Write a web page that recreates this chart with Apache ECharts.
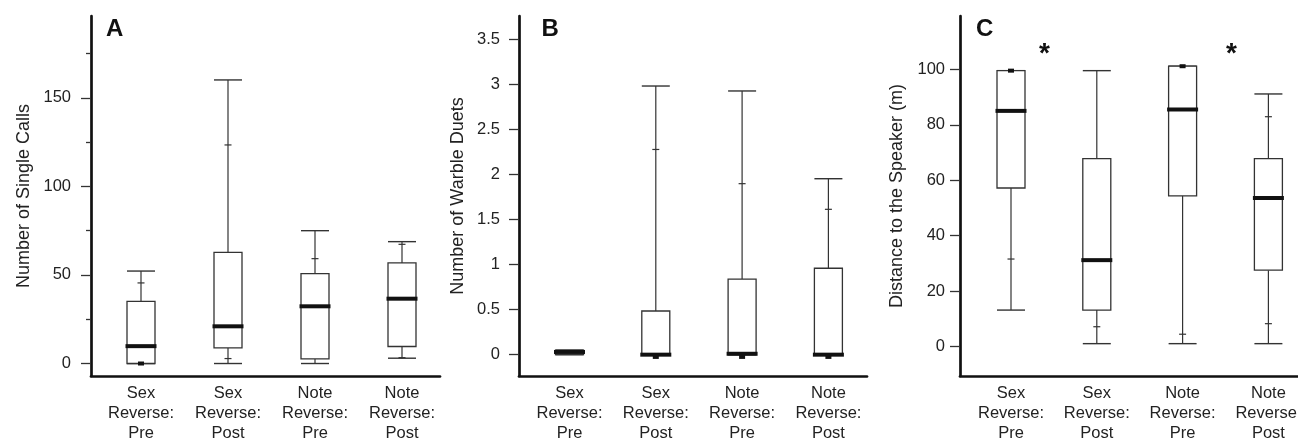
<!DOCTYPE html>
<html>
<head>
    <meta charset="utf-8">
    <script src="https://cdn.jsdelivr.net/npm/echarts@6/dist/echarts.min.js"></script>
</head>
<body style="margin:0">
    <div id="chart" style="width:1298px;height:439px"></div>
<script>
// groups on the x axis (same for the three panels)
const groups = ['Sex\nReverse:\nPre', 'Sex\nReverse:\nPost', 'Note\nReverse:\nPre', 'Note\nReverse:\nPost'];

// each row: [min, p10, q1, median, q3, p90, max]  (null = no mark drawn)
const callsStats = [
    [0, null, 0, 9.8, 35.1, 45.5, 52.2],
    [0, 2.8, 8.8, 21, 62.7, 123.4, 160.1],
    [0, null, 2.6, 32.3, 50.7, 59.2, 75],
    [3.0, 3.3, 9.6, 36.6, 56.8, 67.3, 68.8]
];
const callsDots = [0, null, null, null];

const duetStats = [
    [0, null, 0, 0.03, 0.05, null, 0.05],
    [0, null, 0, 0, 0.485, 2.28, 2.985],
    [0, null, 0, 0.01, 0.84, 1.9, 2.93],
    [0, null, 0, 0, 0.96, 1.615, 1.955]
];
const duetDots = [null, -0.025, -0.025, -0.025];

const distStats = [
    [13.2, 31.6, 57.2, 85.0, 99.5, null, 99.5],
    [1.1, 7.2, 13.2, 31.2, 67.8, null, 99.5],
    [1.1, 4.5, 54.4, 85.5, 101.1, null, 101.1],
    [1.1, 8.3, 27.6, 53.6, 67.8, 82.9, 91.1]
];
const distDots = [99.5, null, 101.1, null];

// significance stars in panel C
const starX = [1.39, 3.57];
const starY = [105.5, 105.5];

const callsTicks = [0, 50, 100, 150];
const callsMinor = [25, 75, 125, 175];
const duetTicks = [0, 0.5, 1, 1.5, 2, 2.5, 3, 3.5];
const distTicks = [0, 20, 40, 60, 80, 100];

const FONT = '"Liberation Sans", Arial, Helvetica, sans-serif';
const INK = '#111';
const LINE = '#333';

// panel layout in pixels: axis left, axis right, first group centre, spacing
const panels = [
    {left: 91, right: 440, c1: 141, sp: 87, ymin: -7.05, ymax: 196.2},
    {left: 519, right: 867, c1: 569.5, sp: 86.3, ymin: -0.237, ymax: 3.763},
    {left: 960, right: 1298, c1: 1011, sp: 85.8, ymin: -10.56, ymax: 119.2}
];
const TOP = 16, BOTTOM = 376;

function boxRenderer(stats) {
    return function (params, api) {
        const s = stats[params.dataIndex];
        const x = params.dataIndex + 1;
        const py = v => api.coord([x, v])[1];
        const cx = api.coord([x, s[3]])[0];
        const hw = 14;
        const kids = [];
        const line = (x1, y1, x2, y2, w, c) => kids.push({
            type: 'line', shape: {x1: x1, y1: y1, x2: x2, y2: y2},
            style: {stroke: c || LINE, lineWidth: w || 1.2}
        });
        // whiskers
        line(cx, py(s[4]), cx, py(s[6]));
        line(cx, py(s[2]), cx, py(s[0]));
        // caps
        line(cx - hw, py(s[6]), cx + hw, py(s[6]), 1.4);
        line(cx - hw, py(s[0]), cx + hw, py(s[0]), 1.4);
        // box
        kids.push({
            type: 'rect',
            shape: {x: cx - hw, y: py(s[4]), width: hw * 2, height: py(s[2]) - py(s[4])},
            style: {fill: '#fff', stroke: LINE, lineWidth: 1.3}
        });
        // inner ticks
        if (s[1] != null) line(cx - 3.5, py(s[1]), cx + 3.5, py(s[1]), 1.2);
        if (s[5] != null) line(cx - 3.5, py(s[5]), cx + 3.5, py(s[5]), 1.2);
        // median
        line(cx - hw - 1.5, py(s[3]), cx + hw + 1.5, py(s[3]), 4, INK);
        return {type: 'group', children: kids};
    };
}

function dotRenderer(dots) {
    return function (params, api) {
        const p = api.coord([params.dataIndex + 1, dots[params.dataIndex]]);
        if (dots[params.dataIndex] == null) return null;
        return {type: 'rect', shape: {x: p[0] - 3, y: p[1] - 2, width: 6, height: 4}, style: {fill: INK}};
    };
}

const grids = [], xAxes = [], yAxes = [];
panels.forEach(function (p) {
    grids.push({left: p.left, top: TOP, width: p.right - p.left, height: BOTTOM - TOP,
        containLabel: false, outerBoundsMode: 'none'});
});
panels.forEach(function (p, i) {
    xAxes.push({
        type: 'value', gridIndex: i,
        min: 1 - (p.c1 - p.left) / p.sp,
        max: 1 + (p.right - p.c1) / p.sp,
        splitLine: {show: false},
        axisTick: {show: false},
        axisLine: {show: true, onZero: false, lineStyle: {color: INK, width: 2.7}},
        axisLabel: {
            customValues: [1, 2, 3, 4],
            formatter: v => groups[Math.round(v) - 1],
            margin: 7, color: '#222', fontFamily: FONT, fontSize: 16.5, lineHeight: 20
        }
    });
});

function yAxis(grid, p, ticks, name, gap, margin) {
    return {
        type: 'value', gridIndex: grid, position: 'left', min: p.ymin, max: p.ymax,
        name: name, nameLocation: 'middle', nameGap: gap,
        nameTextStyle: {fontFamily: FONT, fontSize: 18, color: '#222'},
        splitLine: {show: false},
        axisLine: {show: true, onZero: false, lineStyle: {color: INK, width: 2.7}},
        axisTick: {show: true, customValues: ticks, length: 10, lineStyle: {color: LINE, width: 1.3}},
        axisLabel: {customValues: ticks, margin: margin, color: '#222', fontFamily: FONT, fontSize: 16.5}
    };
}
yAxes.push(yAxis(0, panels[0], callsTicks, 'Number of Single Calls', 58, 20));
yAxes.push({
    type: 'value', gridIndex: 0, position: 'left', offset: 0,
    min: panels[0].ymin, max: panels[0].ymax,
    splitLine: {show: false}, axisLine: {show: false, onZero: false},
    axisLabel: {show: false},
    axisTick: {show: true, customValues: callsMinor, length: 5, lineStyle: {color: LINE, width: 1.3}}
});
yAxes.push(yAxis(1, panels[1], duetTicks, 'Number of Warble Duets', 52, 19));
yAxes.push(yAxis(2, panels[2], distTicks, 'Distance to the Speaker (m)', 54, 15));

const sets = [
    [callsStats, callsDots, 0, 0],
    [duetStats, duetDots, 1, 2],
    [distStats, distDots, 2, 3]
];
const series = [];
sets.forEach(function (d) {
    series.push({
        type: 'custom', xAxisIndex: d[2], yAxisIndex: d[3],
        renderItem: boxRenderer(d[0]),
        data: d[0].map((s, i) => [i + 1, s[3]]),
        silent: true
    });
    series.push({
        type: 'custom', xAxisIndex: d[2], yAxisIndex: d[3],
        renderItem: dotRenderer(d[1]),
        data: d[1].map((v, i) => [i + 1, v == null ? 0 : v]),
        silent: true
    });
});
series.push({
    type: 'custom', xAxisIndex: 2, yAxisIndex: 3, silent: true,
    data: starX.map((x, i) => [x, starY[i]]),
    renderItem: function (params, api) {
        const p = api.coord([api.value(0), api.value(1)]);
        return {type: 'text', x: p[0], y: p[1],
            style: {text: '*', fill: INK, font: 'bold 28px ' + FONT, align: 'center', verticalAlign: 'middle'}};
    }
});

const letter = (t, x) => ({text: t, left: x, top: 17, padding: 0,
    textStyle: {fontFamily: FONT, fontSize: 24, fontWeight: 'bold', color: INK}});

const myChart = echarts.init(document.getElementById('chart'));
myChart.setOption({
    backgroundColor: '#fff',
    animation: false,
    title: [letter('A', 106), letter('B', 541.5), letter('C', 976)],
    grid: grids,
    xAxis: xAxes,
    yAxis: yAxes,
    series: series
});
</script>
</body>
</html>
